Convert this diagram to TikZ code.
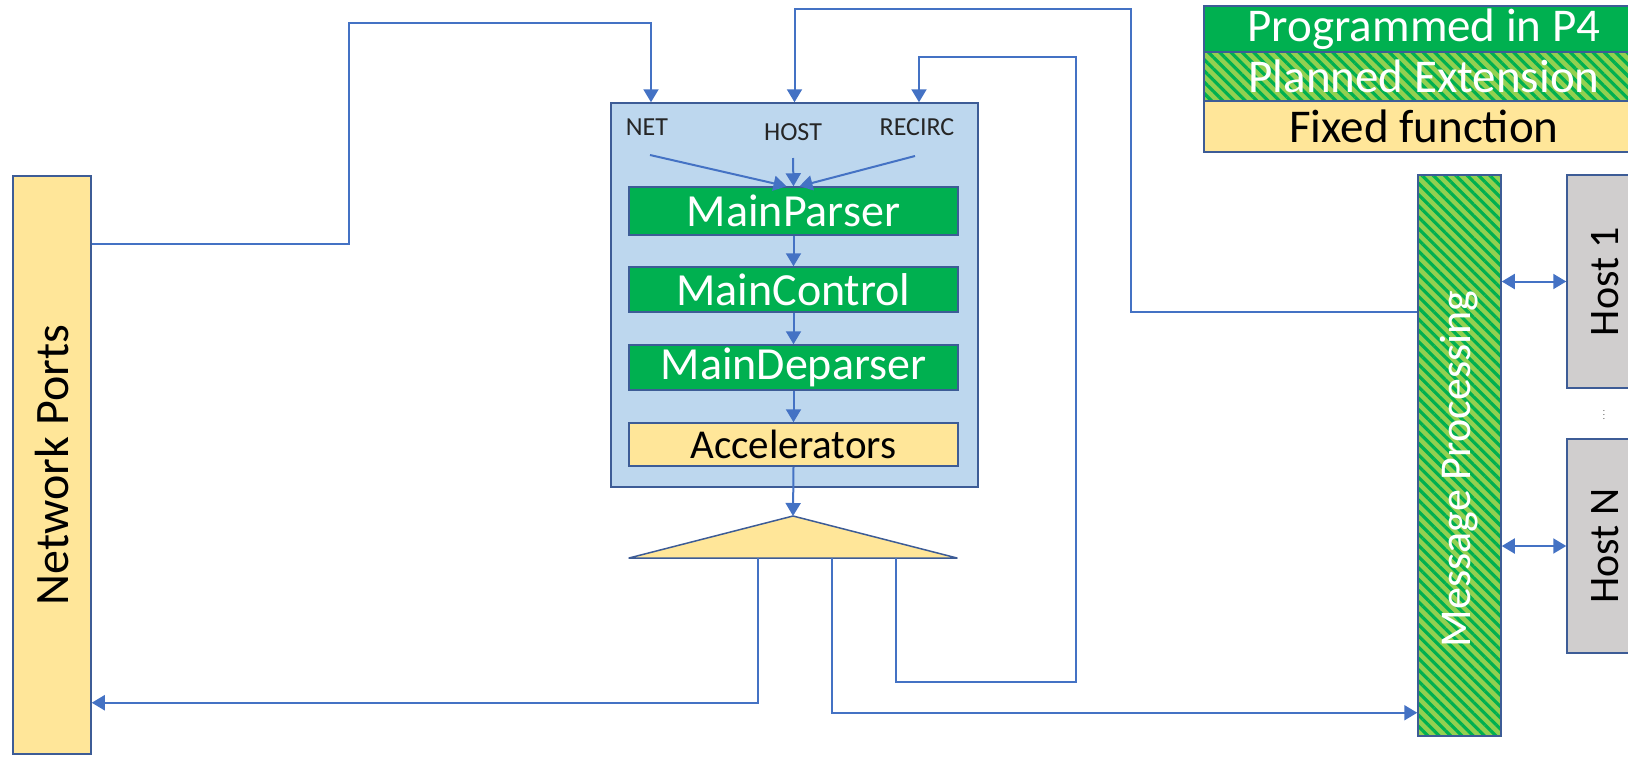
\documentclass[tikz,border=0pt]{standalone}
\usepackage{fontspec}
\setmainfont{Carlito}
\usetikzlibrary{arrows.meta,patterns.meta}
\definecolor{p4green}{HTML}{00B050}
\definecolor{planlight}{HTML}{92D050}
\definecolor{fixedyellow}{HTML}{FFE699}
\definecolor{blockblue}{HTML}{BDD7EE}
\definecolor{hostgrey}{HTML}{D0CECE}
\definecolor{wire}{HTML}{4472C4}
\definecolor{edge}{HTML}{3D5C96}
\newcommand{\fsz}[1]{\fontsize{#1}{#1}\selectfont}

\begin{document}
\begin{tikzpicture}[x=1pt,y=-1pt,
  box/.style={draw=edge, line width=1.5pt, inner sep=0pt},
  p4box/.style={box, fill=p4green, text=white, font=\fsz{46}},
  fixedbox/.style={box, fill=fixedyellow, font=\fsz{41}},
  plannedbox/.style={box, preaction={fill=planlight},
    pattern={Lines[angle=-45,distance=8pt,line width=3.2pt]},
    pattern color=p4green, text=white},
  stagebox/.style={minimum width=329pt, minimum height=45pt},
  portlabel/.style={font=\fsz{26}, text=black!85},
  tip/.style={Triangle[length=13pt,width=15pt]},
  conn/.style={draw=wire, line width=2pt, -{Triangle[length=13pt,width=15pt]}},
  biconn/.style={draw=wire, line width=2pt,
    {Triangle[length=13pt,width=15pt]}-{Triangle[length=13pt,width=15pt]}},
  vlabel/.style={rotate=90, font=\fsz{48}}]

\useasboundingbox (0,0) rectangle (1628,756);
\clip (0,0) rectangle (1628,756);

% ---------- legend ----------
\node[p4box, minimum width=440pt, minimum height=46pt, font=\fsz{47}] (leg1) at (1424,29) {Programmed in P4};
\node[plannedbox, minimum width=440pt, minimum height=49pt, font=\fsz{47}] (leg2) at (1424,76.5) {Planned Extension};
\node[fixedbox, minimum width=440pt, minimum height=51pt, font=\fsz{47}] (leg3) at (1424,126.5) {Fixed function};

% ---------- network ports ----------
\node[box, fill=fixedyellow, minimum width=78pt, minimum height=578pt] (ports) at (52,465) {};
\node[vlabel] (portslabel) at (ports.center) {Network Ports};

% ---------- pipeline block ----------
\node[box, fill=blockblue, minimum width=367pt, minimum height=384pt] (block) at (794.5,295) {};
\node[portlabel] (netlabel) at (647,127) {NET};
\node[portlabel] (hostlabel) at (793,132) {HOST};
\node[portlabel] (reclabel) at (917,127) {RECIRC};

\node[p4box, stagebox, minimum height=48pt] (parser) at (793.5,211) {MainParser};
\node[p4box, stagebox] (control) at (793.5,289.5) {MainControl};
\node[p4box, stagebox] (deparser) at (793.5,367.5) {MainDeparser};
\node[fixedbox, stagebox, minimum height=43pt] (accel) at (793.5,444.5) {Accelerators};

% ---------- output selector ----------
\coordinate (apex) at (793,516);
\coordinate (outnet) at (758,558);
\coordinate (outhost) at (832,558);
\coordinate (outrec) at (896,558);
\draw[box, fill=fixedyellow, line join=round] (629,558) -- (apex) -- (957,558) -- cycle;

% ---------- message processing and hosts ----------
\node[plannedbox, minimum width=83pt, minimum height=561pt] (msg) at (1459.5,455.5) {};
\node[rotate=90, font=\fsz{44}, text=white] (msglabel) at (1459.5,469) {Message Processing};

\node[box, fill=hostgrey, minimum width=88pt, minimum height=213pt] (host1) at (1611,281.5) {};
\node[rotate=90, font=\fsz{42}] (host1label) at (1605,281.5) {Host 1};
\node[box, fill=hostgrey, minimum width=88pt, minimum height=214pt] (hostN) at (1611,546) {};
\node[rotate=90, font=\fsz{42}] (hostNlabel) at (1605,546) {Host N};
\node[font=\fsz{9}, text=black!70] (hostdots) at (1604,412) {$\vdots$};

% ---------- connectors ----------
\coordinate (netsrc) at (650,155);
\coordinate (hostsrc) at (793,158);
\coordinate (recsrc) at (915,156);
\draw[conn] (netsrc) -- ([xshift=-7pt]parser.north);
\draw[conn] (hostsrc) -- (parser.north);
\draw[conn] (recsrc) -- ([xshift=6pt]parser.north);

\draw[conn] (parser.south) -- (control.north);
\draw[conn] (control.south) -- (deparser.north);
\draw[conn] (deparser.south) -- (accel.north);
\draw[conn] (accel.south) -- (apex);

\draw[conn] ([yshift=-69pt]ports.north east) -| (349,23) -| ([xshift=-143.5pt]block.north);
\draw[conn] ([yshift=143.5pt]msg.west) -| (1131,9) -| (block.north);
\draw[conn] (outrec) |- (1076,682) |- (919,57) -- ([xshift=124.5pt]block.north);
\draw[conn] (outnet) |- ([yshift=52pt]ports.south east);
\draw[conn] (outhost) |- ([yshift=24pt]msg.south west);

\draw[biconn] (msg.east |- host1.west) -- (host1.west);
\draw[biconn] (msg.east |- hostN.west) -- (hostN.west);
\end{tikzpicture}
\end{document}
